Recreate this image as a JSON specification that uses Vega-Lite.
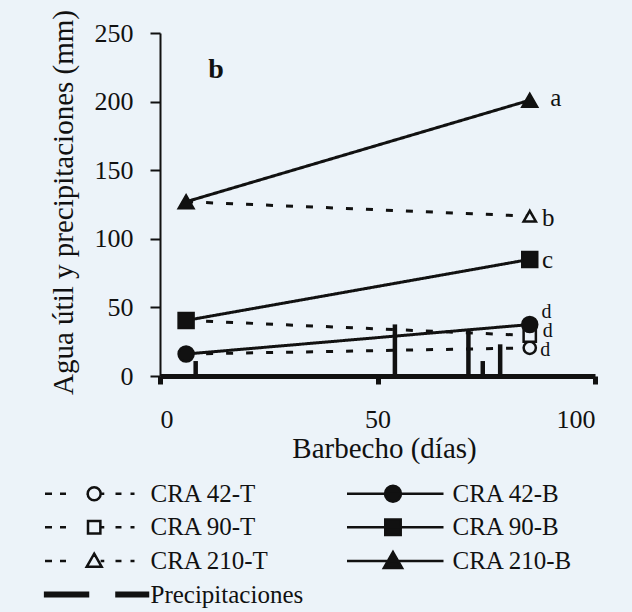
{
  "$schema": "https://vega.github.io/schema/vega-lite/v6.json",
  "width": 435,
  "height": 343,
  "autosize": {"type": "none"},
  "padding": {"left": 160, "top": 33, "right": 37, "bottom": 236},
  "background": "#ecf3f9",
  "datasets": {
    "series": [
      {"serie": "CRA 42-T", "tipo": "T", "dias": 6, "valor": 16},
      {"serie": "CRA 42-T", "tipo": "T", "dias": 85, "valor": 20.5},
      {"serie": "CRA 90-T", "tipo": "T", "dias": 6, "valor": 40.5},
      {"serie": "CRA 90-T", "tipo": "T", "dias": 85, "valor": 29.5},
      {"serie": "CRA 210-T", "tipo": "T", "dias": 6, "valor": 127},
      {"serie": "CRA 210-T", "tipo": "T", "dias": 85, "valor": 116.5},
      {"serie": "CRA 42-B", "tipo": "B", "dias": 6, "valor": 16},
      {"serie": "CRA 42-B", "tipo": "B", "dias": 85, "valor": 37.5},
      {"serie": "CRA 90-B", "tipo": "B", "dias": 6, "valor": 40.5},
      {"serie": "CRA 90-B", "tipo": "B", "dias": 85, "valor": 85},
      {"serie": "CRA 210-B", "tipo": "B", "dias": 6, "valor": 127},
      {"serie": "CRA 210-B", "tipo": "B", "dias": 85, "valor": 201}
    ],
    "precip": [
      {"dias": 8.2, "valor": 10.9},
      {"dias": 54, "valor": 37.6},
      {"dias": 70.9, "valor": 32.8},
      {"dias": 74.2, "valor": 10.9},
      {"dias": 78.2, "valor": 23.1}
    ],
    "letras": [
      {"texto": "a", "dias": 89.7, "valor": 196.5},
      {"texto": "b", "dias": 87.8, "valor": 109},
      {"texto": "c", "dias": 87.8, "valor": 79}
    ],
    "letrasd": [
      {"texto": "d", "dias": 87.7, "valor": 42.5},
      {"texto": "d", "dias": 88.0, "valor": 28.3},
      {"texto": "d", "dias": 87.4, "valor": 14.3}
    ],
    "panel": [
      {"texto": "b", "dias": 11.1, "valor": 217.2}
    ]
  },
  "encoding": {
    "x": {
      "field": "dias",
      "type": "quantitative",
      "scale": {"domain": [0, 100], "nice": false, "zero": false},
      "axis": {
        "values": [0, 50, 100],
        "tickSize": 8,
        "tickWidth": 5,
        "domainWidth": 5,
        "labelFont": "Liberation Serif",
        "labelFontSize": 26,
        "labelBaseline": "alphabetic",
        "labelPadding": 43,
        "title": "Barbecho (días)",
        "titleFont": "Liberation Serif",
        "titleFontSize": 29,
        "titleX": 224,
        "titleY": 81.6,
        "titleBaseline": "alphabetic"
      }
    },
    "y": {
      "field": "valor",
      "type": "quantitative",
      "scale": {"domain": [0, 250], "nice": false},
      "axis": {
        "values": [0, 50, 100, 150, 200, 250],
        "tickSize": 10,
        "tickWidth": 2,
        "domainWidth": 2,
        "labelFont": "Liberation Serif",
        "labelFontSize": 26,
        "labelPadding": 17,
        "title": "Agua útil y precipitaciones (mm)",
        "titleFont": "Liberation Serif",
        "titleFontSize": 29,
        "titleX": -88,
        "titleY": 169,
        "titleBaseline": "alphabetic"
      }
    }
  },
  "layer": [
    {
      "data": {"name": "precip"},
      "mark": {"type": "rule", "strokeWidth": 4.5, "color": "#111"},
      "encoding": {"y2": {"datum": 0}}
    },
    {
      "data": {"name": "series"},
      "mark": {"type": "line", "strokeWidth": 3},
      "encoding": {
        "color": {
          "field": "serie",
          "type": "nominal",
          "scale": {
            "domain": ["CRA 42-T", "CRA 90-T", "CRA 210-T", "Precipitaciones", "CRA 42-B", "CRA 90-B", "CRA 210-B"],
            "range": ["#111", "#111", "#111", "#111", "#111", "#111", "#111"]
          },
          "legend": {
            "orient": "none",
            "legendX": -116.5,
            "legendY": 445.7,
            "columns": 2,
            "columnPadding": 42,
            "rowPadding": 3.6,
            "clipHeight": 30,
            "symbolSize": 10609,
            "symbolOffset": 0,
            "labelOffset": 1,
            "labelFont": "Liberation Serif",
            "labelFontSize": 25,
            "labelColor": "#111",
            "title": null,
            "padding": 0,
            "symbolStrokeWidth": 2.5,
            "symbolStrokeColor": "#111",
            "encode": {
              "symbols": {
                "update": {
                  "shape": {"signal": "{'CRA 42-T':'M-1,0L-0.864,0M-0.709,0L-0.592,0M0.081,0L0.151,0M0.369,0L0.485,0M0.66,0L0.738,0M-0.171,0A0.126,0.126 0 1,1 0.081,0A0.126,0.126 0 1,1 -0.171,0Z','CRA 90-T':'M-1,0L-0.864,0M-0.709,0L-0.592,0M0.081,0L0.151,0M0.369,0L0.485,0M0.66,0L0.738,0M-0.165,-0.12L0.075,-0.12L0.075,0.12L-0.165,0.12Z','CRA 210-T':'M-1,0L-0.864,0M-0.709,0L-0.592,0M0.081,0L0.151,0M0.369,0L0.485,0M0.66,0L0.738,0M-0.045,-0.14L0.1,0.115L-0.19,0.115Z','CRA 42-B':'M-1,0L0.874,0M-0.262,0A0.155,0.155 0 1,1 0.048,0A0.155,0.155 0 1,1 -0.262,0Z','CRA 90-B':'M-1,0L0.874,0M-0.257,-0.15L0.043,-0.15L0.043,0.15L-0.257,0.15Z','CRA 210-B':'M-1,0L0.874,0M-0.107,-0.17L0.07,0.14L-0.284,0.14Z','Precipitaciones':'M-1,-0.035L-0.165,-0.035L-0.165,0.035L-1,0.035ZM0.388,-0.035L1,-0.035L1,0.035L0.388,0.035Z'}[datum.value]"},
                  "fill": {"signal": "indexof(datum.value, '-T') >= 0 ? '#ecf3f9' : '#111'"},
                  "stroke": {"value": "#111"},
                  "strokeWidth": {"value": 2.5},
                  "strokeDash": {"value": []},
                  "opacity": {"value": 1}
                }
              },
              "labels": {
                "update": {
                  "font": {"value": "Liberation Serif"}
                }
              }
            }
          }
        },
        "strokeDash": {
          "field": "tipo",
          "type": "nominal",
          "scale": {"domain": ["T", "B"], "range": [[7, 13], [1, 0]]},
          "legend": null
        }
      }
    },
    {
      "data": {"name": "series"},
      "transform": [{"filter": "datum.tipo === 'T' && datum.dias > 50"}],
      "mark": {"type": "point", "filled": false, "fill": "#ecf3f9", "fillOpacity": 1, "stroke": "#111", "strokeWidth": 2.5, "size": 150, "opacity": 1},
      "encoding": {
        "shape": {
          "field": "serie",
          "type": "nominal",
          "scale": {
            "domain": ["CRA 42-T", "CRA 90-T", "CRA 210-T", "CRA 42-B", "CRA 90-B", "CRA 210-B"],
            "range": ["circle", "square", "triangle-up", "circle", "square", "triangle-up"]
          },
          "legend": null
        }
      }
    },
    {
      "data": {"name": "series"},
      "transform": [{"filter": "datum.tipo === 'B'"}],
      "mark": {"type": "point", "filled": true, "fill": "#111", "fillOpacity": 1, "stroke": "#111", "strokeWidth": 2, "size": 240, "opacity": 1},
      "encoding": {
        "shape": {"field": "serie", "type": "nominal", "legend": null}
      }
    },
    {
      "data": {"name": "letras"},
      "mark": {"type": "text", "align": "left", "baseline": "alphabetic", "font": "Liberation Serif", "fontSize": 25, "color": "#111"},
      "encoding": {"text": {"field": "texto"}}
    },
    {
      "data": {"name": "letrasd"},
      "mark": {"type": "text", "align": "left", "baseline": "alphabetic", "font": "Liberation Serif", "fontSize": 20, "color": "#111"},
      "encoding": {"text": {"field": "texto"}}
    },
    {
      "data": {"name": "panel"},
      "mark": {"type": "text", "align": "left", "baseline": "alphabetic", "font": "Liberation Serif", "fontSize": 28, "fontWeight": "bold", "color": "#111"},
      "encoding": {"text": {"field": "texto"}}
    }
  ],
  "config": {
    "view": {"stroke": null},
    "axis": {
      "grid": false,
      "labelFont": "Liberation Serif",
      "titleFont": "Liberation Serif",
      "titleFontWeight": "normal",
      "labelColor": "#111",
      "titleColor": "#111",
      "domainColor": "#111",
      "tickColor": "#111"
    },
    "legend": {"labelFont": "Liberation Serif"},
    "text": {"font": "Liberation Serif"}
  }
}
